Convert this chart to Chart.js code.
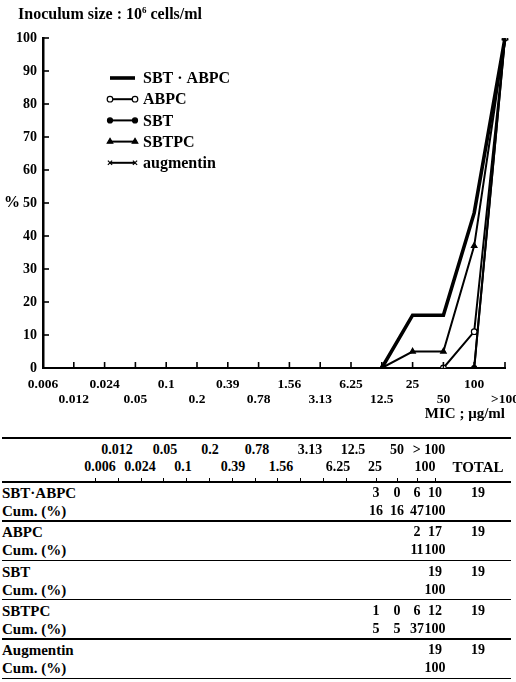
<!DOCTYPE html>
<html>
<head>
<meta charset="utf-8">
<script src="https://cdn.jsdelivr.net/npm/chart.js@4.4.1/dist/chart.umd.min.js"></script>
<style>
  html, body { margin: 0; padding: 0; background: #fff; }
  body { width: 516px; height: 682px; position: relative; overflow: hidden;
         font-family: "Liberation Serif", "Times New Roman", serif; font-weight: bold; color: #000; }
  #wrap { position: absolute; left: 0; top: 0; width: 516px; height: 420px; }
  .t { position: absolute; white-space: nowrap; line-height: 1; }
  .c { transform: translate(-50%, -50%); }
  .l { transform: translate(0, -50%); }
  .rule { position: absolute; left: 2px; width: 509px; background: #000; }
  .tick { position: absolute; width: 1px; height: 3px; background: #000; }
</style>
</head>
<body>
<div id="wrap"><canvas id="chart" width="516" height="420"></canvas></div>
<div class="t" style="left:18px;top:6px;font-size:16px;">Inoculum size : 10<span style="font-size:9px;position:relative;top:-6px;">6</span> cells/ml</div>
<div class="t c" style="left:12px;top:202px;font-size:16px;">%</div>
<div class="t" style="right:11px;top:406px;font-size:15px;">MIC ; μg/ml</div>
<div id="table"></div>

<script>
// MIC categories (µg/ml)
const micLabels = ['0.006', '0.012', '0.024', '0.05', '0.1', '0.2', '0.39', '0.78',
                   '1.56', '3.13', '6.25', '12.5', '25', '50', '100', '>100'];

// Number of strains inhibited at each MIC
const sbtAbpcCount   = [null, null, null, null, null, null, null, null, null, null, null, null, 3, 0, 6, 10];
const abpcCount      = [null, null, null, null, null, null, null, null, null, null, null, null, null, null, 2, 17];
const sbtCount       = [null, null, null, null, null, null, null, null, null, null, null, null, null, null, null, 19];
const sbtpcCount     = [null, null, null, null, null, null, null, null, null, null, null, null, 1, 0, 6, 12];
const augmentinCount = [null, null, null, null, null, null, null, null, null, null, null, null, null, null, null, 19];

// Cumulative percentage of strains inhibited
const sbtAbpcCum   = [null, null, null, null, null, null, null, null, null, null, null, 0, 16, 16, 47, 100];
const abpcCum      = [null, null, null, null, null, null, null, null, null, null, null, null, null, 0, 11, 100];
const sbtCum       = [null, null, null, null, null, null, null, null, null, null, null, null, null, null, 0, 100];
const sbtpcCum     = [null, null, null, null, null, null, null, null, null, null, null, 0, 5, 5, 37, 100];
const augmentinCum = [null, null, null, null, null, null, null, null, null, null, null, null, null, null, 0, 100];

const drugNames = ['SBT·ABPC', 'ABPC', 'SBT', 'SBTPC', 'Augmentin'];
const legendNames = ['SBT · ABPC', 'ABPC', 'SBT', 'SBTPC', 'augmentin'];
const totals = [19, 19, 19, 19, 19];

const yTicks = [0, 10, 20, 30, 40, 50, 60, 70, 80, 90, 100];

const serif = '"Liberation Serif", "Times New Roman", serif';
const black = '#000';

function series(label, data, extra) {
  return Object.assign({
    label, data,
    borderColor: black, backgroundColor: black,
    borderWidth: 2, tension: 0, spanGaps: false,
    pointRadius: 2.5, pointBorderWidth: 1.2,
    pointBorderColor: black, pointBackgroundColor: black
  }, extra);
}

const datasets = [
  series(legendNames[0], sbtAbpcCum, { borderWidth: 3.6, pointRadius: 0 }),
  series(legendNames[1], abpcCum, { pointStyle: 'circle', pointRadius: 2.8, pointBackgroundColor: '#fff' }),
  series(legendNames[2], sbtCum, { pointStyle: 'circle' }),
  series(legendNames[3], sbtpcCum, { pointStyle: 'triangle', pointRadius: 3.2 }),
  series(legendNames[4], augmentinCum, { pointStyle: 'crossRot', pointRadius: 3 })
];

// Inward tick marks on both axes
const innerTicks = {
  id: 'innerTicks',
  afterDraw(chart) {
    const { ctx, chartArea, scales } = chart;
    ctx.save();
    ctx.strokeStyle = black;
    ctx.lineWidth = 1.6;
    yTicks.forEach(v => {
      const y = scales.y.getPixelForValue(v);
      ctx.beginPath();
      ctx.moveTo(chartArea.left, y);
      ctx.lineTo(chartArea.left + 6, y);
      ctx.stroke();
    });
    micLabels.forEach((_, i) => {
      const x = scales.x.getPixelForValue(i);
      ctx.beginPath();
      ctx.moveTo(x, chartArea.bottom);
      ctx.lineTo(x, chartArea.bottom - 6);
      ctx.stroke();
    });
    ctx.restore();
  }
};

// Key drawn inside the plot area
const keyBox = {
  id: 'keyBox',
  afterDraw(chart) {
    const { ctx } = chart;
    const x0 = 110, x1 = 135, tx = 143, top = 78, step = 21.2;
    ctx.save();
    chart.data.datasets.forEach((ds, i) => {
      const y = top + i * step;
      ctx.strokeStyle = black;
      ctx.lineWidth = ds.borderWidth;
      ctx.beginPath();
      ctx.moveTo(x0, y);
      ctx.lineTo(x1, y);
      ctx.stroke();
      if (ds.pointRadius > 0) {
        [x0, x1].forEach(px => {
          ctx.fillStyle = ds.pointBackgroundColor;
          ctx.strokeStyle = ds.pointBorderColor;
          ctx.lineWidth = ds.pointBorderWidth;
          Chart.helpers.drawPoint(ctx, { pointStyle: ds.pointStyle || 'circle', radius: ds.pointRadius, borderWidth: ds.pointBorderWidth }, px, y);
        });
      }
      ctx.fillStyle = black;
      ctx.font = 'bold 16px ' + serif;
      ctx.textBaseline = 'middle';
      ctx.textAlign = 'left';
      ctx.fillText(ds.label, tx, y + 1);
    });
    ctx.restore();
  }
};

new Chart(document.getElementById('chart'), {
  type: 'line',
  data: { labels: micLabels, datasets },
  options: {
    responsive: false,
    animation: false,
    events: [],
    layout: { padding: { left: 0, right: 11, top: 38, bottom: 0 } },
    plugins: { legend: { display: false }, tooltip: { enabled: false } },
    scales: {
      x: {
        type: 'category',
        offset: false,
        grid: { display: false, drawTicks: false },
        border: { color: black, width: 2 },
        ticks: {
          autoSkip: false, maxRotation: 0, minRotation: 0, padding: 9,
          color: black,
          font: { family: serif, size: 13.5, weight: 'bold', lineHeight: 1.1 },
          callback: (v, i) => (i % 2 === 0 ? [micLabels[i], ''] : ['', micLabels[i]])
        },
        afterFit: s => { s.height = 52; s.paddingLeft = 0; s.paddingRight = 0; }
      },
      y: {
        min: 0, max: 100,
        grid: { display: false, drawTicks: false },
        border: { color: black, width: 2.5 },
        ticks: {
          stepSize: 10, padding: 6, color: black,
          font: { family: serif, size: 14, weight: 'bold' }
        },
        afterFit: s => { s.width = 43; }
      }
    }
  },
  plugins: [innerTicks, keyBox]
});

// Frequency table below the chart
(function buildTable() {
  const host = document.getElementById('table');
  const add = (html) => host.insertAdjacentHTML('beforeend', html);
  const text = (s, x, y, size, cls) =>
    add(`<div class="t ${cls || 'c'}" style="left:${x}px;top:${y}px;font-size:${size}px;">${s}</div>`);
  const rule = (y, h) => add(`<div class="rule" style="top:${y}px;height:${h}px;"></div>`);

  const headTop = [117, 165, 210, 257, 310, 353, 397, 429];   // odd MIC indices
  const headBot = [100, 140, 183, 233, 281, 338, 375, 425];   // even MIC indices
  const colX = [95, 118, 141, 163, 186, 209, 232, 255, 277, 300, 323, 346, 376, 397, 417, 435];
  const totalX = 478;

  rule(437, 1.6);
  micLabels.forEach((m, i) => {
    if (i % 2 === 0) text(m.replace('>', '&gt;'), headBot[i / 2], 467, 14);
    else text(m.replace('>', '&gt; '), headTop[(i - 1) / 2], 450, 14);
  });
  text('TOTAL', totalX, 467, 15);
  colX.forEach(x => add(`<div class="tick" style="left:${x}px;top:478px;"></div>`));

  const counts = [sbtAbpcCount, abpcCount, sbtCount, sbtpcCount, augmentinCount];
  const cums = [sbtAbpcCum, abpcCum, sbtCum, sbtpcCum, augmentinCum];
  const blockH = 39.3;
  drugNames.forEach((name, r) => {
    const y0 = 481 + r * blockH;
    rule(y0, 1.6);
    text(name, 2, y0 + 12, 15, 'l');
    text('Cum. (%)', 2, y0 + 30, 15, 'l');
    counts[r].forEach((v, i) => {
      if (v === null) return;
      text(v, colX[i], y0 + 12, 14);
      text(cums[r][i], colX[i], y0 + 30, 14);
    });
    text(totals[r], totalX, y0 + 12, 14);
  });
  rule(481 + 5 * blockH, 1.6);
})();
</script>
</body>
</html>
